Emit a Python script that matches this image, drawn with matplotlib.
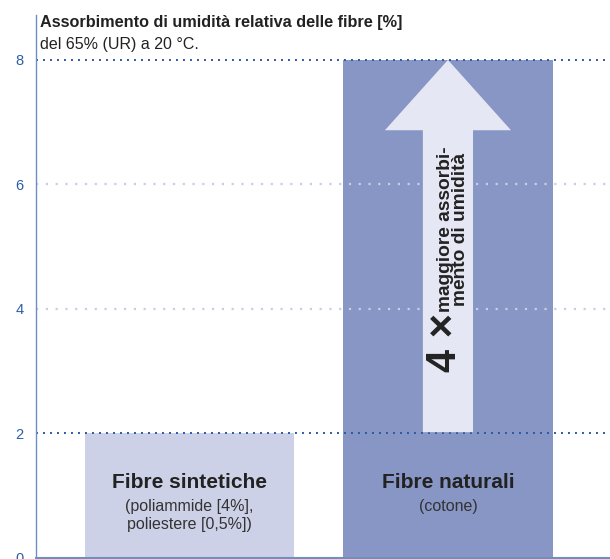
import numpy as np
from matplotlib import pyplot as plt

# dati
categorie = ['Fibre sintetiche', 'Fibre naturali']
sottotitoli = ['(poliammide [4%],\npoliestere [0,5%])', '(cotone)']
valori = [2, 8]
yticks = [0, 2, 4, 6, 8]
titolo = 'Assorbimento di umidità relativa delle fibre [%]'
sottotitolo = 'del 65% (UR) a 20 °C.'
testo_freccia = 'maggiore assorbi-\nmento di umidità'
fattore = '4 ×'

plt.rcParams['font.family'] = ['Liberation Sans', 'DejaVu Sans']

fig = plt.figure(figsize=(6.1, 5.59), dpi=100)
ax = fig.add_axes([0.059, 0.002, 0.941, 0.971])

x = np.arange(len(categorie))
colori = ['#cdd1e7', '#8796c4']
larg = 0.81
ax.bar(x, valori, width=larg, color=colori, zorder=1)

ax.set_xlim(-0.594, 1.627)
ax.set_ylim(0, 8.72)

# griglia
for yv in yticks[1:]:
    if yv in (2, 8):
        ax.axhline(yv, color='#2a5aa0', lw=1.4, ls=(0, (1, 2.6)), zorder=2)
    else:
        ax.axhline(yv, color='#c9cee7', lw=1.6, ls=(0, (1, 3.4)), zorder=2)

# freccia sulla barra naturale
xc = x[1]
ys = valori[0] + 0.02
yt = valori[1]
mezzo_fusto = 0.097
mezza_testa = 0.244
lung_testa = 1.13
px = [xc - mezzo_fusto, xc + mezzo_fusto, xc + mezzo_fusto, xc + mezza_testa, xc,
      xc - mezza_testa, xc - mezzo_fusto]
py = [ys, ys, yt - lung_testa, yt - lung_testa, yt, yt - lung_testa, yt - lung_testa]
ax.fill(px, py, color='#e5e7f4', zorder=3, lw=0)

ax.text(xc - 0.01, 2.98, fattore, rotation=90, ha='center', va='bottom',
        fontsize=30, fontweight='bold', color='#222222', zorder=4)
ax.text(xc + 0.02, 3.95, testo_freccia, rotation=90, ha='center', va='bottom',
        fontsize=13.8, fontweight='bold', color='#222222', linespacing=0.88, zorder=4)

# etichette nelle barre
for i in range(len(categorie)):
    ax.text(x[i], 1.21, categorie[i], ha='center', va='center', fontsize=15,
            fontweight='bold', color='#222222', zorder=4)
    ax.text(x[i], 0.95, sottotitoli[i], ha='center', va='top', fontsize=11.5,
            color='#333333', linespacing=1.28, zorder=4)

# assi
ax.set_yticks(yticks)
ax.set_yticklabels([str(t) for t in yticks])
ax.tick_params(axis='y', length=0, pad=9, labelsize=10.5, labelcolor='#2b5ea7')
ax.set_xticks([])
for s in ['top', 'right']:
    ax.spines[s].set_visible(False)
ax.spines['left'].set_color('#6d8fc4')
ax.spines['bottom'].set_color('#6d8fc4')
ax.spines['left'].set_linewidth(1.0)
ax.spines['bottom'].set_linewidth(1.5)

fig.text(40 / 610, 1 - 22 / 559, titolo, ha='left', va='center', fontsize=11.7,
         fontweight='bold', color='#222222')
fig.text(40 / 610, 1 - 44 / 559, sottotitolo, ha='left', va='center', fontsize=11.5,
         color='#222222')

fig.savefig('out.png', dpi=100)
